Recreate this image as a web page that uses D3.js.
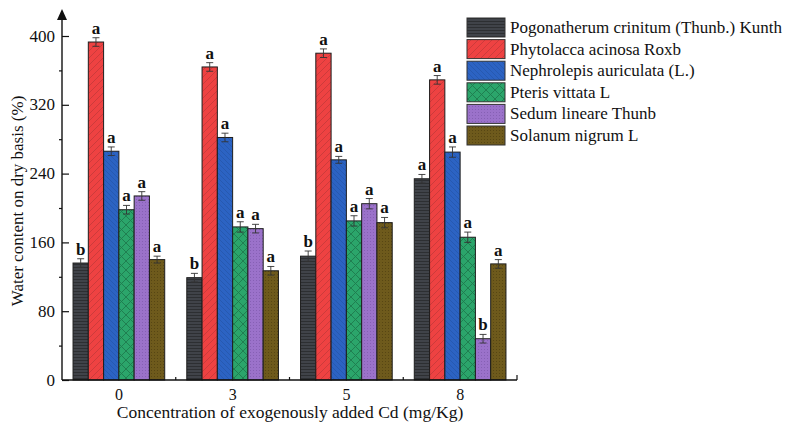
<!DOCTYPE html>
<html>
<head>
<meta charset="utf-8">
<script src="https://cdn.jsdelivr.net/npm/d3@7/dist/d3.min.js"></script>
<style>
  body { margin: 0; background: #fff; }
  text { font-family: "Liberation Serif", "Times New Roman", serif; fill: #111; }
</style>
</head>
<body>
<svg id="chart" width="785" height="423"></svg>
<script>
const categories = ["0", "3", "5", "8"];
const series = [
  "Pogonatherum crinitum (Thunb.) Kunth",
  "Phytolacca acinosa Roxb",
  "Nephrolepis auriculata (L.)",
  "Pteris vittata L",
  "Sedum lineare Thunb",
  "Solanum nigrum L"
];
// values[series][category]
const values = [
  [136, 119, 144, 234],
  [393, 364, 380, 349],
  [266, 282, 256, 265],
  [198, 178, 185, 166],
  [214, 176, 205, 48],
  [140, 127, 183, 135]
];
const errors = [
  [5, 5, 6, 5],
  [5, 5, 5, 5],
  [5, 5, 4, 6],
  [5, 6, 6, 6],
  [5, 5, 6, 5],
  [4, 5, 6, 5]
];
const letters = [
  ["b", "b", "b", "a"],
  ["a", "a", "a", "a"],
  ["a", "a", "a", "a"],
  ["a", "a", "a", "a"],
  ["a", "a", "a", "b"],
  ["a", "a", "a", "a"]
];
const yTicks = [0, 80, 160, 240, 320, 400];
const yMinorTicks = [40, 120, 200, 280, 360];

const colors = ["#404349", "#ee4242", "#2c63c3", "#2ba56b", "#9b72ca", "#6e5a1c"];

const svg = d3.select("#chart");
const mLeft = 62, mRight = 517, mBottom = 380, mTop = 36;

const y = d3.scaleLinear().domain([0, 400]).range([mBottom, mTop]);
const x0 = d3.scaleBand().domain(categories).range([mLeft, mRight]);
const bw = x0.bandwidth();
const pad = bw * 0.097;
const x1 = d3.scaleBand().domain(d3.range(series.length)).range([pad, bw - pad]);

// patterns
const defs = svg.append("defs");
function pat(id, w, h, bg, drawFn) {
  const p = defs.append("pattern").attr("id", id).attr("patternUnits", "userSpaceOnUse")
    .attr("width", w).attr("height", h);
  p.append("rect").attr("width", w).attr("height", h).attr("fill", bg);
  drawFn(p);
}
pat("p0", 6, 3, colors[0], p => {
  p.append("line").attr("x1", 0).attr("x2", 6).attr("y1", 0.5).attr("y2", 0.5)
    .attr("stroke", "#2a2c30").attr("stroke-width", 0.9);
});
pat("p1", 7, 7, colors[1], p => {
  p.append("path").attr("d", "M0,7 L7,0 M-1,1 L1,-1 M6,8 L8,6")
    .attr("stroke", "#c83a3a").attr("stroke-width", 0.9);
});
pat("p2", 5, 5, colors[2], p => {
  p.append("path").attr("d", "M0,0 L5,5 M-1,4 L1,6 M4,-1 L6,1")
    .attr("stroke", "#2555a8").attr("stroke-width", 0.7);
});
pat("p3", 9, 9, colors[3], p => {
  p.append("path").attr("d", "M0,0 L9,9 M9,0 L0,9")
    .attr("stroke", "#1f7a4e").attr("stroke-width", 0.9);
});
pat("p4", 3, 3, colors[4], p => {
  p.append("rect").attr("x", 1).attr("y", 1).attr("width", 1).attr("height", 1).attr("fill", "#8660b4");
});
pat("p5", 3, 3, colors[5], p => {
  p.append("rect").attr("x", 1).attr("y", 1).attr("width", 1).attr("height", 1).attr("fill", "#574613");
});

// bars
const data = [];
series.forEach((s, si) => categories.forEach((c, ci) => {
  data.push({ si, c, v: values[si][ci], e: errors[si][ci], l: letters[si][ci] });
}));

const g = svg.append("g");
g.selectAll("rect.bar").data(data).enter().append("rect")
  .attr("class", "bar")
  .attr("x", d => x0(d.c) + x1(d.si))
  .attr("width", x1.bandwidth())
  .attr("y", d => y(d.v))
  .attr("height", d => y(0) - y(d.v))
  .attr("fill", d => `url(#p${d.si})`)
  .attr("stroke", "#1e1e1e").attr("stroke-width", 1);

// error bars
const cx = d => x0(d.c) + x1(d.si) + x1.bandwidth() / 2;
const eb = g.selectAll("g.err").data(data).enter().append("g").attr("class", "err")
  .attr("stroke", "#333").attr("stroke-width", 0.9);
eb.append("line")
  .attr("x1", cx).attr("x2", cx)
  .attr("y1", d => y(d.v - d.e)).attr("y2", d => y(d.v + d.e));
eb.append("line")
  .attr("x1", d => cx(d) - 3.5).attr("x2", d => cx(d) + 3.5)
  .attr("y1", d => y(d.v + d.e)).attr("y2", d => y(d.v + d.e));
eb.append("line")
  .attr("x1", d => cx(d) - 3.5).attr("x2", d => cx(d) + 3.5)
  .attr("y1", d => y(d.v - d.e)).attr("y2", d => y(d.v - d.e));

// letters
g.selectAll("text.lt").data(data).enter().append("text")
  .attr("class", "lt")
  .attr("x", cx)
  .attr("y", d => y(d.v + d.e) - 4)
  .attr("text-anchor", "middle")
  .attr("font-size", 17).attr("font-weight", "bold")
  .text(d => d.l);

// y axis
const yAxis = d3.axisRight(y).tickValues(yTicks).tickSize(7).tickFormat("");
const ya = svg.append("g").attr("transform", `translate(${mLeft},0)`).call(yAxis);
ya.select(".domain").remove();
ya.selectAll(".tick line").attr("stroke", "#111").attr("stroke-width", 1.2);
const yMinor = d3.axisLeft(y).tickValues(yMinorTicks).tickSize(3).tickFormat("");
const ym = svg.append("g").attr("transform", `translate(${mLeft},0)`).call(yMinor);
ym.select(".domain").remove();
ym.selectAll(".tick line").attr("stroke", "#111").attr("stroke-width", 1.2);
svg.append("line").attr("x1", mLeft).attr("x2", mLeft).attr("y1", mBottom).attr("y2", 18)
  .attr("stroke", "#111").attr("stroke-width", 1.4);
svg.append("path").attr("d", `M${mLeft - 5},20 L${mLeft},9 L${mLeft + 5},20 Z`).attr("fill", "#111");
svg.selectAll("text.yl").data(yTicks).enter().append("text")
  .attr("class", "yl")
  .attr("x", 55).attr("y", d => y(d) + 5.5)
  .attr("text-anchor", "end").attr("font-size", 17)
  .text(d => d);

// x axis
svg.append("line").attr("x1", mLeft).attr("x2", mRight).attr("y1", mBottom).attr("y2", mBottom)
  .attr("stroke", "#111").attr("stroke-width", 1.4);
const bounds = categories.map(c => x0(c) + bw);
svg.selectAll("line.xb").data(bounds).enter().append("line")
  .attr("class", "xb")
  .attr("x1", d => d).attr("x2", d => d)
  .attr("y1", mBottom).attr("y2", (d, i) => i === bounds.length - 1 ? mBottom - 5 : mBottom - 3)
  .attr("stroke", "#111").attr("stroke-width", 1.2);
svg.selectAll("text.xl").data(categories).enter().append("text")
  .attr("class", "xl")
  .attr("x", d => x0(d) + bw / 2).attr("y", 400)
  .attr("text-anchor", "middle").attr("font-size", 16)
  .text(d => d);

svg.append("text").attr("x", 290).attr("y", 418).attr("text-anchor", "middle")
  .attr("font-size", 17.5).text("Concentration of exogenously added Cd (mg/Kg)");
svg.append("text").attr("transform", "translate(23,201) rotate(-90)")
  .attr("text-anchor", "middle").attr("font-size", 17)
  .text("Water content on dry basis (%)");

// legend
const lg = svg.append("g");
series.forEach((s, i) => {
  const yy = 18 + i * 21.6;
  lg.append("rect").attr("x", 467).attr("y", yy).attr("width", 38).attr("height", 19)
    .attr("fill", `url(#p${i})`).attr("stroke", "#333").attr("stroke-width", 1);
  lg.append("text").attr("x", 510).attr("y", yy + 15).attr("font-size", 17).text(s);
});
</script>
</body>
</html>
